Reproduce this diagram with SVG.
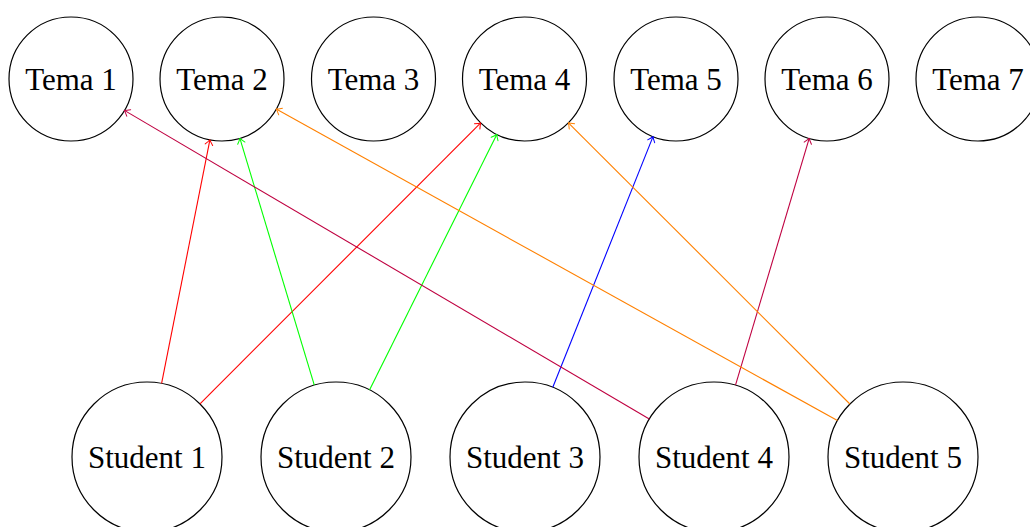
<svg xmlns="http://www.w3.org/2000/svg" width="1030" height="527" viewBox="0 0 1030 527">
<style>
.node circle{fill:#fff;stroke:#000;stroke-width:1.2}
.node text{font-family:"Liberation Serif","Times New Roman",serif;font-size:31px;text-anchor:middle;fill:#000}
.edge{fill:none;stroke-width:1.1}
.ah{fill:none;stroke-width:1;stroke-linecap:round;stroke-linejoin:round}
</style>
<defs>
<marker id="mr" markerUnits="userSpaceOnUse" markerWidth="12" markerHeight="12" refX="0" refY="0" viewBox="-7 -6 12 12" orient="auto" overflow="visible"><path class="ah" stroke="#ff0000" d="M-5,-3.8 Q-1.5,-0.8 0,0 Q-1.5,0.8 -5,3.8"/></marker>
<marker id="mg" markerUnits="userSpaceOnUse" markerWidth="12" markerHeight="12" refX="0" refY="0" viewBox="-7 -6 12 12" orient="auto" overflow="visible"><path class="ah" stroke="#00ff00" d="M-5,-3.8 Q-1.5,-0.8 0,0 Q-1.5,0.8 -5,3.8"/></marker>
<marker id="mb" markerUnits="userSpaceOnUse" markerWidth="12" markerHeight="12" refX="0" refY="0" viewBox="-7 -6 12 12" orient="auto" overflow="visible"><path class="ah" stroke="#0000ff" d="M-5,-3.8 Q-1.5,-0.8 0,0 Q-1.5,0.8 -5,3.8"/></marker>
<marker id="mp" markerUnits="userSpaceOnUse" markerWidth="12" markerHeight="12" refX="0" refY="0" viewBox="-7 -6 12 12" orient="auto" overflow="visible"><path class="ah" stroke="#bf0040" d="M-5,-3.8 Q-1.5,-0.8 0,0 Q-1.5,0.8 -5,3.8"/></marker>
<marker id="mo" markerUnits="userSpaceOnUse" markerWidth="12" markerHeight="12" refX="0" refY="0" viewBox="-7 -6 12 12" orient="auto" overflow="visible"><path class="ah" stroke="#ff8000" d="M-5,-3.8 Q-1.5,-0.8 0,0 Q-1.5,0.8 -5,3.8"/></marker>
</defs>
<g id="tema1" class="node"><circle cx="71" cy="79" r="62"/><text x="71" y="90">Tema 1</text></g>
<g id="tema2" class="node"><circle cx="222" cy="79" r="62"/><text x="222" y="90">Tema 2</text></g>
<g id="tema3" class="node"><circle cx="373.5" cy="79" r="62"/><text x="373.5" y="90">Tema 3</text></g>
<g id="tema4" class="node"><circle cx="524.5" cy="79" r="62"/><text x="524.5" y="90">Tema 4</text></g>
<g id="tema5" class="node"><circle cx="676" cy="79" r="62"/><text x="676" y="90">Tema 5</text></g>
<g id="tema6" class="node"><circle cx="827" cy="79" r="62"/><text x="827" y="90">Tema 6</text></g>
<g id="tema7" class="node"><circle cx="978" cy="79" r="62"/><text x="978" y="90">Tema 7</text></g>
<g id="student1" class="node"><circle cx="147" cy="457" r="75"/><text x="147" y="468">Student 1</text></g>
<g id="student2" class="node"><circle cx="336" cy="457" r="75"/><text x="336" y="468">Student 2</text></g>
<g id="student3" class="node"><circle cx="525" cy="457" r="75"/><text x="525" y="468">Student 3</text></g>
<g id="student4" class="node"><circle cx="714" cy="457" r="75"/><text x="714" y="468">Student 4</text></g>
<g id="student5" class="node"><circle cx="903" cy="457" r="75"/><text x="903" y="468">Student 5</text></g>
<g id="connectors">
<line class="edge" stroke="#ff0000" x1="161.6" y1="383.4" x2="209.9" y2="139.8" marker-end="url(#mr)"/>
<line class="edge" stroke="#ff0000" x1="200.0" y1="403.9" x2="480.7" y2="122.9" marker-end="url(#mr)"/>
<line class="edge" stroke="#00ff00" x1="314.3" y1="385.2" x2="239.9" y2="138.4" marker-end="url(#mg)"/>
<line class="edge" stroke="#00ff00" x1="369.5" y1="389.9" x2="496.8" y2="134.5" marker-end="url(#mg)"/>
<line class="edge" stroke="#0000ff" x1="552.8" y1="387.3" x2="653.0" y2="136.6" marker-end="url(#mb)"/>
<line class="edge" stroke="#bf0040" x1="649.3" y1="419.0" x2="124.4" y2="110.4" marker-end="url(#mp)"/>
<line class="edge" stroke="#bf0040" x1="735.5" y1="385.1" x2="809.2" y2="138.4" marker-end="url(#mp)"/>
<line class="edge" stroke="#ff8000" x1="837.4" y1="420.6" x2="276.2" y2="109.1" marker-end="url(#mo)"/>
<line class="edge" stroke="#ff8000" x1="849.9" y1="404.0" x2="568.4" y2="122.8" marker-end="url(#mo)"/>
</g>
</svg>
